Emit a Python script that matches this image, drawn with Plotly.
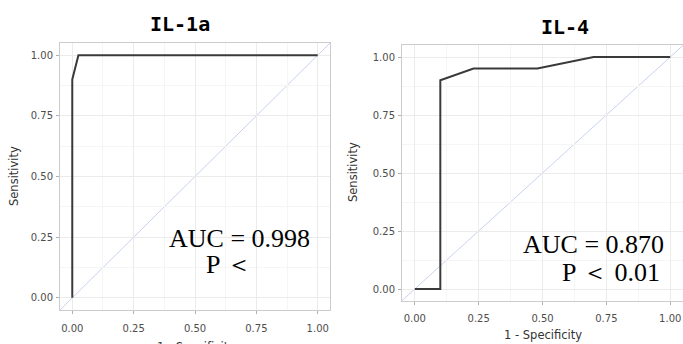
import plotly.graph_objects as go

W, H = 683, 344

# ---- data ----
il1a_fpr = [0.0, 0.0, 0.025, 1.0]
il1a_tpr = [0.0, 0.9, 1.0, 1.0]
il4_fpr = [0.0, 0.1, 0.1, 0.23, 0.48, 0.7, 1.0]
il4_tpr = [0.0, 0.0, 0.9, 0.95, 0.95, 1.0, 1.0]
titles = ["IL-1a", "IL-4"]
auc_texts = ["AUC = 0.998", "AUC = 0.870"]
p_texts = ["P \uff1c", "P \uff1c 0.01"]
tick_vals = [0, 0.25, 0.5, 0.75, 1.0]
tick_text = ["0.00", "0.25", "0.50", "0.75", "1.00"]
x_title = "1 - Specificity"
y_title = "Sensitivity"

def px_x(p):
    return p / W

def px_y(p):
    return 1 - p / H

fig = go.Figure()
fig.add_trace(go.Scatter(x=il1a_fpr, y=il1a_tpr, mode="lines",
                         line=dict(color="#3a3a3a", width=2), xaxis="x", yaxis="y",
                         showlegend=False, hoverinfo="skip"))
fig.add_trace(go.Scatter(x=il4_fpr, y=il4_tpr, mode="lines",
                         line=dict(color="#3a3a3a", width=2), xaxis="x2", yaxis="y2",
                         showlegend=False, hoverinfo="skip"))

tickfont = dict(family="DejaVu Sans", size=10, color="#4d4d4d")
def axis(domain, anchor, standoff):
    return dict(domain=domain, anchor=anchor, range=[-0.05, 1.05],
                tickvals=tick_vals, ticktext=tick_text, tickfont=tickfont,
                ticks="outside", ticklen=3, tickcolor="#b0b0b0",
                ticklabelstandoff=standoff,
                showgrid=True, gridcolor="#ebebeb", gridwidth=1,
                minor=dict(dtick=0.125, tick0=0.125, showgrid=True, gridcolor="#f5f5f5", gridwidth=0.5),
                showline=True, mirror=True, linecolor="#cccccc", linewidth=1,
                zeroline=False, fixedrange=True, automargin=False)

fig.update_layout(
    width=W, height=H, margin=dict(l=0, r=0, t=0, b=0, autoexpand=False),
    paper_bgcolor="white", plot_bgcolor="white",
    xaxis=axis([px_x(60), px_x(330)], "y", 6),
    yaxis=axis([px_y(310), px_y(43)], "x", 1),
    xaxis2=axis([px_x(402), 1.0], "y2", 5),
    yaxis2=axis([px_y(300.6), px_y(45.4)], "x2", 1),
)

# diagonal reference lines
for xr, yr in [("x", "y"), ("x2", "y2")]:
    fig.add_shape(type="line", xref=f"{xr} domain", yref=f"{yr} domain",
                  x0=0, y0=0, x1=1, y1=1, line=dict(color="#c9d2f0", width=1), layer="below")

def pa(text, x, y, font, angle=0):
    return dict(text=text, x=px_x(x), y=px_y(y), xref="paper", yref="paper",
                xanchor="center", yanchor="middle", textangle=angle,
                showarrow=False, font=font)

tfont = dict(family="DejaVu Sans Mono", size=20, color="black", weight="bold")
afont = dict(family="DejaVu Sans", size=11.5, color="#333333")
ann = [
    pa(titles[0], 180, 24, tfont),
    pa(titles[1], 565, 27, tfont),
    pa(y_title, 14, 176, afont, -90),
    pa(y_title, 353, 172, afont, -90),
    pa(x_title, 196, 347, afont),
    pa(x_title, 543, 335, afont),
]
# AUC texts
sfont = dict(family="Liberation Serif", size=26, color="black")
ann.append(dict(text=auc_texts[0], x=0.385, y=0.244, xref="x", yref="y", xanchor="left",
                yanchor="middle", showarrow=False, font=sfont))
ann.append(dict(text=p_texts[0], x=0.535, y=0.136, xref="x", yref="y", xanchor="left",
                yanchor="middle", showarrow=False, font=sfont))
ann.append(dict(text=auc_texts[1], x=0.417, y=0.19, xref="x2", yref="y2", xanchor="left",
                yanchor="middle", showarrow=False, font=sfont))
ann.append(dict(text=p_texts[1], x=0.57, y=0.069, xref="x2", yref="y2", xanchor="left",
                yanchor="middle", showarrow=False, font=sfont))
fig.update_layout(annotations=ann)

fig.write_html("out.html", config={"displayModeBar": False},
               post_script="document.body.style.margin='0px';")
